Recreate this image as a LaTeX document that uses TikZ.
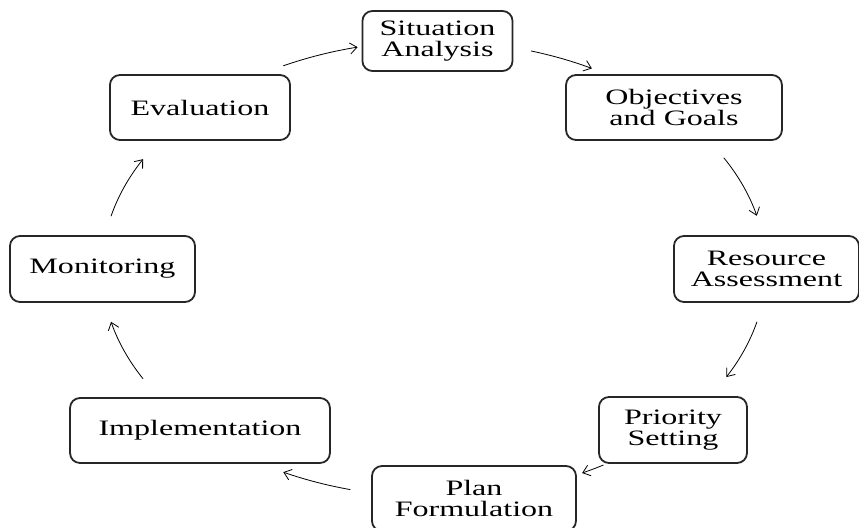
\documentclass[tikz,border=0pt]{standalone}
\usepackage{fontspec}
\setmainfont{Liberation Serif}
\usetikzlibrary{arrows.meta}
\tikzset{
  stage/.style={draw=black!85, line width=0.9pt, rounded corners=5pt,
    align=center, inner sep=0pt, xscale=1.457,
    font=\fontsize{11}{10.5}\selectfont},
  flow/.style={line width=0.4pt, -{Straight Barb[length=3.5pt,width=5.5pt]}}
}
\begin{document}
\begin{tikzpicture}[x=1pt,y=1pt]
\useasboundingbox (-217,-129.5) rectangle (212.5,134.5);
% process stages around the cycle
\node[stage, minimum width=51.5pt, minimum height=30pt]   (sit)  at (1.75,114)    {Situation\\Analysis};
\node[stage, minimum width=74.1pt, minimum height=32.5pt] (obj)  at (120,80.75)   {Objectives\\and Goals};
\node[stage, minimum width=63.5pt, minimum height=33pt]   (res)  at (166.25,0)    {Resource\\Assessment};
\node[stage, minimum width=50.8pt, minimum height=33pt]   (pri)  at (119.5,-80.5) {Priority\\Setting};
\node[stage, minimum width=70pt,   minimum height=32.5pt] (plan) at (20,-114.75)  {Plan\\Formulation};
\node[stage, minimum width=89.2pt, minimum height=32.5pt] (imp)  at (-117,-80.75) {Implementation};
\node[stage, minimum width=63.5pt, minimum height=33pt]   (mon)  at (-165.75,0)   {Monitoring};
\node[stage, minimum width=61.8pt, minimum height=32.5pt] (eva)  at (-117,80.75)  {Evaluation};
% arrows follow an ellipse through the stages
\coordinate (a1) at (117:166pt and 114pt);
\coordinate (a2) at (73:166pt and 114pt);
\coordinate (a3) at (29.2:166pt and 114pt);
\coordinate (a4) at (-13.4:166pt and 114pt);
\coordinate (a5) at (-59.3:166pt and 114pt);
\coordinate (a6) at (-104.6:166pt and 114pt);
\coordinate (a7) at (-151.2:166pt and 114pt);
\coordinate (a8) at (166.6:166pt and 114pt);
\draw[flow] (a1) arc[start angle=117,    end angle=103.3,  x radius=166pt, y radius=114pt];
\draw[flow] (a2) arc[start angle=73,     end angle=61.6,   x radius=166pt, y radius=114pt];
\draw[flow] (a3) arc[start angle=29.2,   end angle=13.5,   x radius=166pt, y radius=114pt];
\draw[flow] (a4) arc[start angle=-13.4,  end angle=-28.3,  x radius=166pt, y radius=114pt];
\draw[flow] (a5) arc[start angle=-59.3,  end angle=-63.5,  x radius=166pt, y radius=114pt];
\draw[flow] (a6) arc[start angle=-104.6, end angle=-117,   x radius=166pt, y radius=114pt];
\draw[flow] (a7) arc[start angle=-151.2, end angle=-166.6, x radius=166pt, y radius=114pt];
\draw[flow] (a8) arc[start angle=166.6,  end angle=151.2,  x radius=166pt, y radius=114pt];
\end{tikzpicture}
\end{document}
